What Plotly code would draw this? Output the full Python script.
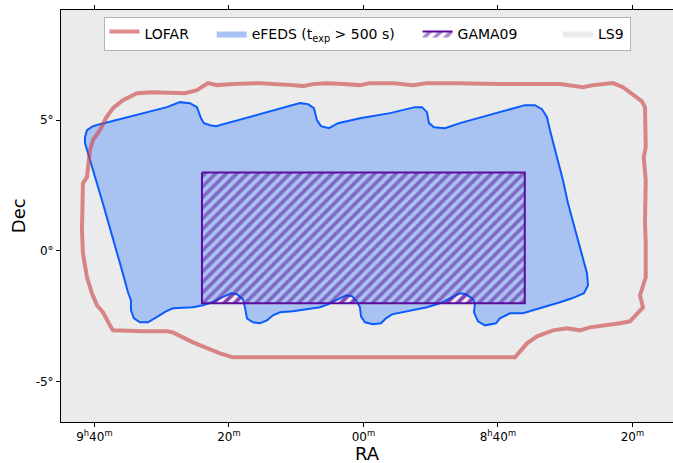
import plotly.graph_objects as go

# ---- data (RA, Dec in degrees) ----
efeds_ra = [145.349, 145.275, 145.052, 144.792, 142.301, 141.818, 141.446, 141.186, 141.037, 140.926,
            140.703, 140.480, 137.357, 137.059, 136.836, 136.725, 136.576, 136.279, 135.944, 135.126,
            134.011, 133.082, 132.821, 132.636, 132.561, 132.375, 131.966, 131.409, 128.992, 128.621,
            128.360, 128.175, 128.063, 127.580, 127.394, 126.687, 126.650, 126.799, 127.245, 127.691,
            129.067, 129.550, 129.922, 130.070, 130.479, 130.740, 130.888, 130.851, 130.963, 131.186,
            131.409, 131.780, 132.152, 132.636, 133.639, 133.937, 134.160, 134.346, 134.643, 134.940,
            135.089, 135.126, 135.238, 135.424, 135.647, 135.944, 136.316, 136.613, 137.617, 138.100,
            138.361, 138.584, 138.844, 139.104, 139.327, 139.402, 139.476, 139.699, 139.922, 140.256,
            140.628, 140.963, 141.335, 142.078, 142.338, 142.636, 143.007, 143.305, 143.528, 143.639,
            143.639, 143.751, 143.974, 144.717, 145.089, 145.349, 145.349]
efeds_dec = [4.345, 4.612, 4.765, 4.841, 5.491, 5.682, 5.644, 5.491, 5.071, 4.880,
             4.803, 4.765, 5.644, 5.606, 5.453, 4.994, 4.765, 4.689, 4.880, 5.071,
             5.262, 5.491, 5.491, 5.300, 4.880, 4.727, 4.689, 4.880, 5.568, 5.568,
             5.415, 5.109, 4.612, 2.702, 1.823, -0.852, -1.311, -1.616, -1.807, -1.960,
             -2.381, -2.381, -2.572, -2.763, -2.839, -2.686, -2.342, -1.998, -1.807, -1.655,
             -1.616, -1.807, -1.998, -2.151, -2.342, -2.419, -2.572, -2.763, -2.801, -2.725,
             -2.495, -2.151, -1.922, -1.731, -1.693, -1.846, -2.037, -2.151, -2.304, -2.342,
             -2.457, -2.648, -2.763, -2.725, -2.572, -2.151, -1.846, -1.655, -1.616, -1.769,
             -1.960, -2.075, -2.151, -2.190, -2.304, -2.495, -2.725, -2.725, -2.572, -2.266,
             -1.884, -1.578, -0.738, 1.937, 3.198, 4.116, 4.345]

lofar_ra = [144.792, 144.569, 144.309, 143.937, 143.416, 142.822, 141.632, 141.186, 140.777, 140.442,
            139.848, 138.844, 137.617, 137.245, 136.874, 136.353, 135.758, 135.126, 134.755, 133.900,
            133.156, 132.636, 131.520, 129.922, 127.691, 127.208, 126.836, 126.465, 125.721, 125.350,
            124.978, 124.653, 124.531, 124.504, 124.578, 124.504, 124.531, 124.504, 124.504, 124.717,
            124.605, 125.089, 125.461, 125.944, 126.576, 126.948, 127.431, 127.952, 128.546, 128.918,
            129.178, 129.364, 129.810, 131.409, 132.636, 133.639, 134.011, 134.271, 134.755, 136.353,
            137.617, 138.844, 139.848, 140.331, 141.335, 142.078, 142.301, 143.193, 144.309, 144.420,
            144.680, 144.903, 145.089, 145.275, 145.424, 145.461, 145.461, 145.424, 145.275, 145.164,
            145.052, 144.792]
lofar_dec = [4.612, 5.071, 5.453, 5.759, 6.026, 6.064, 6.026, 6.141, 6.408, 6.332,
             6.370, 6.408, 6.332, 6.294, 6.370, 6.408, 6.370, 6.332, 6.408, 6.408,
             6.332, 6.408, 6.408, 6.370, 6.370, 6.294, 6.255, 6.332, 6.408, 6.255,
             5.950, 5.720, 5.491, 3.963, 3.581, 2.702, 1.058, 0.294, -1.005, -1.693,
             -2.151, -2.686, -2.763, -2.839, -2.916, -3.030, -2.954, -3.030, -3.259, -3.527,
             -3.871, -4.062, -4.062, -4.062, -4.062, -4.062, -4.024, -4.062, -4.062, -4.062,
             -4.062, -4.062, -4.062, -3.909, -3.489, -3.107, -3.068, -3.068, -3.030, -2.839,
             -2.342, -2.075, -1.616, -1.005, -0.088, 0.791, 1.823, 2.587, 2.816, 3.848,
             4.230, 4.612]

gama_ra = [141.0, 129.0, 129.0, 141.0, 141.0]
gama_dec = [3.0, 3.0, -2.0, -2.0, 3.0]

ls9_ra = [148.0, 122.0, 122.0, 148.0, 148.0]
ls9_dec = [-8.0, -8.0, 11.0, 11.0, -8.0]

xtick_vals = [145, 140, 135, 130, 125]
xtick_text = ["9<sup>h</sup>40<sup>m</sup>", "20<sup>m</sup>", "00<sup>m</sup>",
              "8<sup>h</sup>40<sup>m</sup>", "20<sup>m</sup>"]
ytick_vals = [5, 0, -5]
ytick_text = ["5°", "0°", "-5°"]

FONT = "DejaVu Sans"
GRAY = "#ebebeb"
BLUE_FILL = "#a8c3f1"
BLUE_EDGE = "#0a5cff"
PURPLE = "#5a0d9c"
RED = "rgba(205,70,70,0.62)"
SP = "&nbsp;"

fig = go.Figure()

# LS9 footprint (covers full view)
fig.add_trace(go.Scatter(x=ls9_ra, y=ls9_dec, fill="toself", fillcolor=GRAY, mode="lines",
                         line=dict(width=0, color=GRAY), name="LS9", legendrank=4,
                         hoverinfo="skip"))
# GAMA09 hatch on white (visible where eFEDS does not cover)
fig.add_trace(go.Scatter(x=gama_ra, y=gama_dec, fill="toself", fillcolor="white", mode="lines",
                         line=dict(width=0, color=PURPLE), showlegend=False,
                         fillpattern=dict(shape="/", fgcolor=PURPLE, bgcolor="#f6f0f6",
                                          size=7.5, solidity=0.5),
                         hoverinfo="skip"))
# eFEDS fill
fig.add_trace(go.Scatter(x=efeds_ra, y=efeds_dec, fill="toself", fillcolor=BLUE_FILL, mode="lines",
                         line=dict(width=0, color=BLUE_FILL),
                         name="eFEDS (t<sub>exp</sub> > 500 s)" + SP * 4, legendrank=2,
                         hoverinfo="skip"))
# eFEDS outline
fig.add_trace(go.Scatter(x=efeds_ra, y=efeds_dec, mode="lines",
                         line=dict(width=2, color=BLUE_EDGE), showlegend=False, hoverinfo="skip"))
# GAMA09 hatch (transparent background) + edge
fig.add_trace(go.Scatter(x=gama_ra, y=gama_dec, fill="toself", fillcolor="rgba(0,0,0,0)",
                         mode="lines", line=dict(width=2, color=PURPLE), name="GAMA09" + SP * 8,
                         fillpattern=dict(shape="/", fgcolor=PURPLE, bgcolor="rgba(0,0,0,0)",
                                          size=7.5, solidity=0.5),
                         legendrank=3, hoverinfo="skip"))
# LOFAR outline
fig.add_trace(go.Scatter(x=lofar_ra, y=lofar_dec, fill="toself", fillcolor="rgba(0,0,0,0)",
                         mode="lines", line=dict(width=4, color=RED), name="LOFAR" + SP * 4,
                         legendrank=1, hoverinfo="skip"))

fig.update_layout(
    width=673, height=463,
    margin=dict(l=61, r=0, t=10, b=41),
    paper_bgcolor="white", plot_bgcolor="white",
    font=dict(family=FONT, size=12, color="black"),
    showlegend=True,
    legend=dict(orientation="h", x=0.5, xanchor="center", y=0.983, yanchor="top",
                bgcolor="white", bordercolor="#b4b4b4", borderwidth=1,
                font=dict(family=FONT, size=14), itemwidth=30, traceorder="normal"),
    xaxis=dict(range=[146.24, 123.49], tickvals=xtick_vals, ticktext=xtick_text,
               showgrid=False, zeroline=False, showline=True, linecolor="black", linewidth=1,
               mirror="ticks", ticks="outside", ticklen=4, tickcolor="black",
               tickfont=dict(size=12), automargin=False),
    yaxis=dict(range=[-6.53, 9.20], tickvals=ytick_vals, ticktext=ytick_text,
               showgrid=False, zeroline=False, showline=True, linecolor="black", linewidth=1,
               ticks="outside", ticklen=4, tickcolor="black", tickfont=dict(size=12),
               automargin=False),
    annotations=[
        dict(text="RA", xref="paper", yref="paper", x=0.5, y=-0.076, xanchor="center",
             yanchor="middle", showarrow=False, font=dict(size=18, family=FONT)),
        dict(text="Dec", xref="paper", yref="paper", x=-0.070, y=0.5, xanchor="center",
             yanchor="middle", textangle=-90, showarrow=False, font=dict(size=18, family=FONT)),
    ],
)

fig.write_html("out.html", config={"displayModeBar": False},
               post_script="document.body.style.margin='0px';")
